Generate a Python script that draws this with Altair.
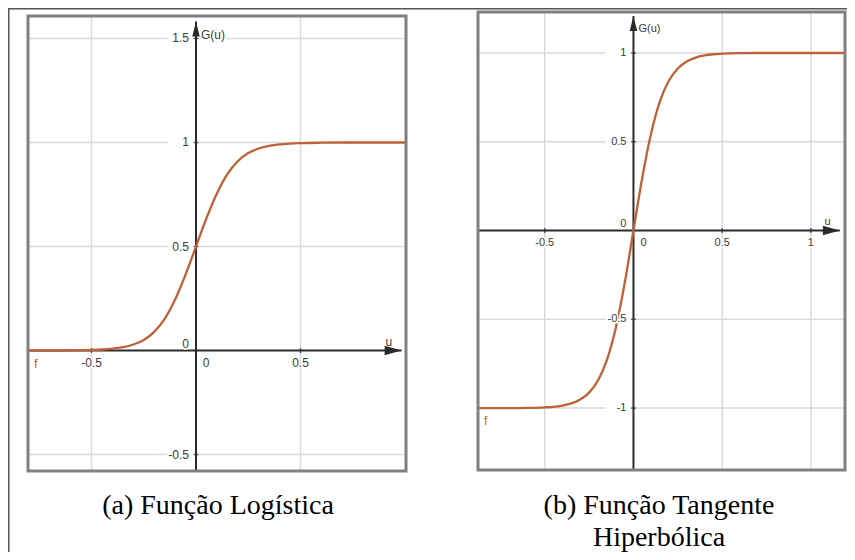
import altair as alt
import pandas as pd

# ---------------- data ----------------
# (a) logistic function
log_u = [-0.804, -0.70, -0.60, -0.50, -0.45, -0.40, -0.35, -0.30, -0.25, -0.20, -0.15, -0.10, -0.05,
         0.00, 0.05, 0.10, 0.15, 0.20, 0.25, 0.30, 0.35, 0.40, 0.45, 0.50, 0.60, 0.70, 0.80, 1.005]
log_g = [0.000, 0.000, 0.001, 0.003, 0.005, 0.009, 0.016, 0.029, 0.051, 0.090, 0.152, 0.245, 0.365,
         0.500, 0.636, 0.755, 0.848, 0.910, 0.949, 0.971, 0.984, 0.991, 0.995, 0.997, 0.999, 1.000, 1.000, 1.000]

# (b) hyperbolic tangent
tanh_u = [-0.876, -0.70, -0.60, -0.50, -0.45, -0.40, -0.35, -0.30, -0.25, -0.20, -0.15, -0.10, -0.05,
          0.00, 0.05, 0.10, 0.15, 0.20, 0.25, 0.30, 0.35, 0.40, 0.45, 0.50, 0.60, 0.70, 0.80, 1.00, 1.192]
tanh_g = [-1.000, -1.000, -0.999, -0.996, -0.993, -0.986, -0.974, -0.952, -0.913, -0.845, -0.730, -0.550, -0.300,
          0.000, 0.300, 0.550, 0.730, 0.845, 0.913, 0.952, 0.974, 0.986, 0.993, 0.996, 0.999, 1.000, 1.000, 1.000, 1.000]

left_xgrid = [-0.5, 0.5]
left_ygrid = [-0.5, 0.5, 1.0, 1.5]
left_xticks = [-0.5, 0.5]
left_xlabels = ["-0.5", "0.5"]
left_yticks = [-0.5, 0.5, 1.0, 1.5]
left_ylabels = ["-0.5", "0.5", "1", "1.5"]

right_xgrid = [-0.5, 0.5, 1.0]
right_ygrid = [-1.0, -0.5, 0.5, 1.0]
right_xticks = [-0.5, 0.5, 1.0]
right_xlabels = ["-0.5", "0.5", "1"]
right_yticks = [-1.0, -0.5, 0.5, 1.0]
right_ylabels = ["-1", "-0.5", "0.5", "1"]

captions = ["(a) Função Logística", "(b) Função Tangente", "Hiperbólica"]

CURVE = "#bd6236"
GRID = "#dadada"
AXIS = "#2b2b2b"
FRAME = "#808080"
LABEL = "#3a3a3a"
SANS = "Liberation Sans"
SERIF = "Liberation Serif"


def panel(xdom, xrng, ydom, yrng, cu, cg, xgrid, ygrid, xt, xtl, yt, ytl,
          xtip, ytip, u_at, g_at, fsize):
    xs = alt.Scale(domain=xdom, range=xrng, nice=False, zero=False)
    ys = alt.Scale(domain=ydom, range=yrng, nice=False, zero=False)

    def X(f):
        return alt.X(f, type="quantitative", scale=xs, axis=None)

    def Y(f):
        return alt.Y(f, type="quantitative", scale=ys, axis=None)

    layers = []
    # grid
    vg = pd.DataFrame({"x": xgrid, "ya": ydom[0], "yb": ydom[1]})
    layers.append(alt.Chart(vg).mark_rule(color=GRID, strokeWidth=1.5)
                  .encode(x=X("x"), y=Y("ya"), y2=alt.Y2("yb")))
    hg = pd.DataFrame({"y": ygrid, "xa": xdom[0], "xb": xdom[1]})
    layers.append(alt.Chart(hg).mark_rule(color=GRID, strokeWidth=1.5)
                  .encode(y=Y("y"), x=X("xa"), x2=alt.X2("xb")))
    # white gaps behind y tick labels
    yl = pd.DataFrame({"x": 0.0, "y": yt, "t": ytl})
    layers.append(alt.Chart(yl).mark_point(
        shape="M-2,-0.22 L0,-0.22 L0,0.22 L-2,0.22 Z", size=784, filled=True,
        color="white", opacity=1, strokeWidth=0).encode(x=X("x"), y=Y("y")))
    # axes
    ya = pd.DataFrame({"x": [0.0], "ya": [ydom[0]], "yb": [ytip]})
    layers.append(alt.Chart(ya).mark_rule(color=AXIS, strokeWidth=2)
                  .encode(x=X("x"), y=Y("ya"), y2=alt.Y2("yb")))
    xa = pd.DataFrame({"y": [0.0], "xa": [xdom[0]], "xb": [xtip]})
    layers.append(alt.Chart(xa).mark_rule(color=AXIS, strokeWidth=2)
                  .encode(y=Y("y"), x=X("xa"), x2=alt.X2("xb")))
    # ticks
    xl = pd.DataFrame({"x": xt, "y": 0.0, "t": xtl})
    layers.append(alt.Chart(xl).mark_tick(orient="vertical", size=5, thickness=1.5, color=AXIS)
                  .encode(x=X("x"), y=Y("y")))
    layers.append(alt.Chart(yl).mark_tick(orient="horizontal", size=5, thickness=1.5, color=AXIS)
                  .encode(x=X("x"), y=Y("y")))
    # curve
    cdf = pd.DataFrame({"u": cu, "g": cg})
    layers.append(alt.Chart(cdf).mark_line(color=CURVE, strokeWidth=2.3, interpolate="monotone")
                  .encode(x=X("u"), y=Y("g"), order="u:Q"))

    # labels
    def txt(df, **kw):
        base = dict(font=SANS, fontSize=fsize, baseline="middle")
        base.update(kw)
        halo = alt.Chart(df).mark_text(stroke="white", strokeWidth=3, fill="white", **base).encode(
            x=X("x"), y=Y("y"), text="t:N")
        front = alt.Chart(df).mark_text(color=LABEL, **base).encode(
            x=X("x"), y=Y("y"), text="t:N")
        return [halo, front]

    layers += txt(xl, align="center", dy=12)
    layers += txt(pd.DataFrame({"x": [0.0], "y": [0.0], "t": ["0"]}), align="center", dx=10, dy=12)
    layers += txt(yl, align="right", dx=-7)
    layers += txt(pd.DataFrame({"x": [0.0], "y": [0.0], "t": ["0"]}), align="right", dx=-7, dy=-7)
    layers += txt(pd.DataFrame({"x": [u_at], "y": [0.0], "t": ["u"]}), align="center", dy=-9)
    layers += txt(pd.DataFrame({"x": [0.0], "y": [g_at], "t": ["G(u)"]}), align="left", dx=5)
    layers.append(alt.Chart(pd.DataFrame({"x": [xdom[0]], "y": [0.0 if ydom[0] > -1 else -1.0], "t": ["f"]}))
                  .mark_text(font=SANS, fontSize=fsize + 1, color=CURVE, align="left", baseline="middle",
                             dx=6, dy=13)
                  .encode(x=X("x"), y=Y("y"), text="t:N"))
    # arrows
    layers.append(alt.Chart(pd.DataFrame({"x": [xtip], "y": [0.0]})).mark_point(
        shape="M-2,-0.55 L0,0 L-2,0.55 Z", size=289, filled=True, color=AXIS, opacity=1, strokeWidth=0)
        .encode(x=X("x"), y=Y("y")))
    layers.append(alt.Chart(pd.DataFrame({"x": [0.0], "y": [ytip]})).mark_point(
        shape="M-0.5,2 L0,0 L0.5,2 Z", size=225, filled=True, color=AXIS, opacity=1, strokeWidth=0)
        .encode(x=X("x"), y=Y("y")))
    # frame
    fr = pd.DataFrame({"xa": [xdom[0]], "xb": [xdom[1]], "ya": [ydom[0]], "yb": [ydom[1]]})
    layers.append(alt.Chart(fr).mark_rect(fillOpacity=0, stroke=FRAME, strokeWidth=3)
                  .encode(x=X("xa"), x2=alt.X2("xb"), y=Y("ya"), y2=alt.Y2("yb")))
    return alt.layer(*layers)


left = panel([-0.804, 1.005], [20, 398], [-0.579, 1.608], [463, 8],
             log_u, log_g, left_xgrid, left_ygrid, left_xticks, left_xlabels,
             left_yticks, left_ylabels, 0.984, 1.581, 0.923, 1.517, 12)

right = panel([-0.876, 1.192], [470, 837], [-1.349, 1.231], [462, 4],
              tanh_u, tanh_g, right_xgrid, right_ygrid, right_xticks, right_xlabels,
              right_yticks, right_ylabels, 1.163, 1.208, 1.094, 1.133, 11)


def caption(t, x, y):
    return alt.Chart(pd.DataFrame({"t": [t]})).mark_text(
        font=SERIF, fontSize=28, color="black", align="center", baseline="alphabetic").encode(
        x=alt.value(x), y=alt.value(y), text="t:N")


cap_a = caption(captions[0], 210, 506)
cap_b1 = caption(captions[1], 651, 506)
cap_b2 = caption(captions[2], 651, 538)

box_top = alt.Chart(pd.DataFrame({"a": [0]})).mark_rule(color="#555555", strokeWidth=1.5).encode(
    x=alt.value(0), x2=alt.value(839), y=alt.value(0.75))
box_left = alt.Chart(pd.DataFrame({"a": [0]})).mark_rule(color="#555555", strokeWidth=1.5).encode(
    x=alt.value(0.75), y=alt.value(0), y2=alt.value(544))

chart = alt.layer(left, right, cap_a, cap_b1, cap_b2, box_top, box_left).resolve_scale(
    x="independent", y="independent"
).properties(
    width=839, height=544, padding=0,
    autosize=alt.AutoSizeParams(type="none"),
    background="white",
).configure_view(strokeWidth=0)

chart.save("out.html", embed_options={"renderer": "svg", "actions": False})
